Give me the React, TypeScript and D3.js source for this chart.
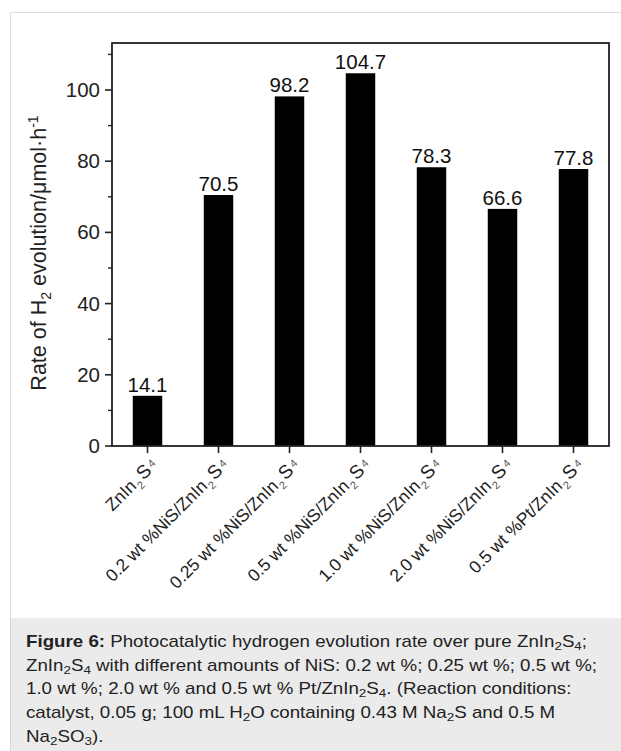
import React from "react";
import * as d3 from "d3";

const categories = [
  "ZnIn2S4",
  "0.2 wt %NiS/ZnIn2S4",
  "0.25 wt %NiS/ZnIn2S4",
  "0.5 wt %NiS/ZnIn2S4",
  "1.0 wt %NiS/ZnIn2S4",
  "2.0 wt %NiS/ZnIn2S4",
  "0.5 wt %Pt/ZnIn2S4",
];
const rates = [14.1, 70.5, 98.2, 104.7, 78.3, 66.6, 77.8];
const valueLabels = ["14.1", "70.5", "98.2", "104.7", "78.3", "66.6", "77.8"];
const majorTicks = [0, 20, 40, 60, 80, 100];
const minorTicks = [10, 30, 50, 70, 90, 110];

const FONT = "'Liberation Sans', Arial, sans-serif";

function CatLabel({ name }: { name: string }) {
  const prefix = name.replace(/ZnIn2S4$/, "");
  return (
    <>
      {prefix}ZnIn
      <tspan dx={1} fontSize={11} fill="#555" dy={5}>2</tspan>
      <tspan dx={2} dy={-5} fontSize={19}>S</tspan>
      <tspan dx={2} fontSize={11} fill="#555" dy={-3}>4</tspan>
    </>
  );
}

export default function App() {
  const left = 112, right = 609, top = 43, bottom = 446;
  const x = d3.scaleBand<string>().domain(categories).range([left, right]).paddingInner(0.585).paddingOuter(0.2925);
  const y = d3.scaleLinear().domain([0, 113.2]).range([bottom, top]);
  const bw = x.bandwidth();
  const capScale = 1.17;

  return (
    <svg width={621} height={751} style={{ position: "absolute", left: 0, top: 0 }} fontFamily={FONT}>
      <rect x={0} y={0} width={621} height={751} fill="#fff" />
      {/* figure border */}
      <path d="M10.5,751 V12.5 H621" fill="none" stroke="#dcdcdc" strokeWidth={1} />
      {/* caption background */}
      <rect x={10} y={618} width={611} height={133} fill="#ebebeb" />
      <line x1={10.5} x2={10.5} y1={618} y2={751} stroke="#d6d6d6" />

      {/* bars */}
      {categories.map((c, i) => (
        <g key={c}>
          <rect x={x(c)!} y={y(rates[i])} width={bw} height={bottom - y(rates[i])} fill="#000" />
          <text x={x(c)! + bw / 2} y={y(rates[i]) - 4} textAnchor="middle" fontSize={20.5} fill="#111">
            {valueLabels[i]}
          </text>
          <line x1={x(c)! + bw / 2} x2={x(c)! + bw / 2} y1={bottom} y2={bottom + 7} stroke="#222" strokeWidth={1.6} />
          <text
            transform={`translate(${x(c)! + bw / 2 + 11},${bottom + 20}) rotate(-45)`}
            textAnchor="end"
            fontSize={17.5}
            fill="#222"
          >
            <CatLabel name={c} />
          </text>
        </g>
      ))}

      {/* frame */}
      <rect x={left} y={top} width={right - left} height={bottom - top} fill="none" stroke="#222" strokeWidth={1.8} />

      {/* y ticks */}
      {majorTicks.map((t) => (
        <g key={t}>
          <line x1={left - 7} x2={left} y1={y(t)} y2={y(t)} stroke="#222" strokeWidth={1.6} />
          <text x={left - 12} y={y(t) + 7} textAnchor="end" fontSize={20.5} fill="#222">
            {t}
          </text>
        </g>
      ))}
      {minorTicks.map((t) => (
        <line key={t} x1={left - 4} x2={left} y1={y(t)} y2={y(t)} stroke="#222" strokeWidth={1.4} />
      ))}

      {/* y title */}
      <text transform={`translate(46,253) rotate(-90)`} textAnchor="middle" fontSize={21.5} fill="#222">
        Rate of H<tspan fontSize={14} dy={5}>2</tspan>
        <tspan dy={-5}> evolution/μmol·h</tspan>
        <tspan fontSize={14} dy={-8}>-1</tspan>
      </text>

      {/* caption */}
      <g fontSize={16} fill="#222" transform={`translate(26,0) scale(${capScale},1)`}>
        <text x={0} y={647}>
          <tspan fontWeight="bold">Figure 6:</tspan> Photocatalytic hydrogen evolution rate over pure ZnIn
          <tspan fontSize={11.5} dy={3}>2</tspan>
          <tspan dy={-3}>S</tspan>
          <tspan fontSize={11.5} dy={3}>4</tspan>
          <tspan dy={-3}>;</tspan>
        </text>
        <text x={0} y={671}>
          ZnIn<tspan fontSize={11.5} dy={3}>2</tspan>
          <tspan dy={-3}>S</tspan>
          <tspan fontSize={11.5} dy={3}>4</tspan>
          <tspan dy={-3}> with different amounts of NiS: 0.2 wt %; 0.25 wt %; 0.5 wt %;</tspan>
        </text>
        <text x={0} y={694.5}>
          1.0 wt %; 2.0 wt % and 0.5 wt % Pt/ZnIn<tspan fontSize={11.5} dy={3}>2</tspan>
          <tspan dy={-3}>S</tspan>
          <tspan fontSize={11.5} dy={3}>4</tspan>
          <tspan dy={-3}>. (Reaction conditions:</tspan>
        </text>
        <text x={0} y={718}>
          catalyst, 0.05 g; 100 mL H<tspan fontSize={11.5} dy={3}>2</tspan>
          <tspan dy={-3}>O containing 0.43 M Na</tspan>
          <tspan fontSize={11.5} dy={3}>2</tspan>
          <tspan dy={-3}>S and 0.5 M</tspan>
        </text>
        <text x={0} y={742}>
          Na<tspan fontSize={11.5} dy={3}>2</tspan>
          <tspan dy={-3}>SO</tspan>
          <tspan fontSize={11.5} dy={3}>3</tspan>
          <tspan dy={-3}>).</tspan>
        </text>
      </g>
    </svg>
  );
}
